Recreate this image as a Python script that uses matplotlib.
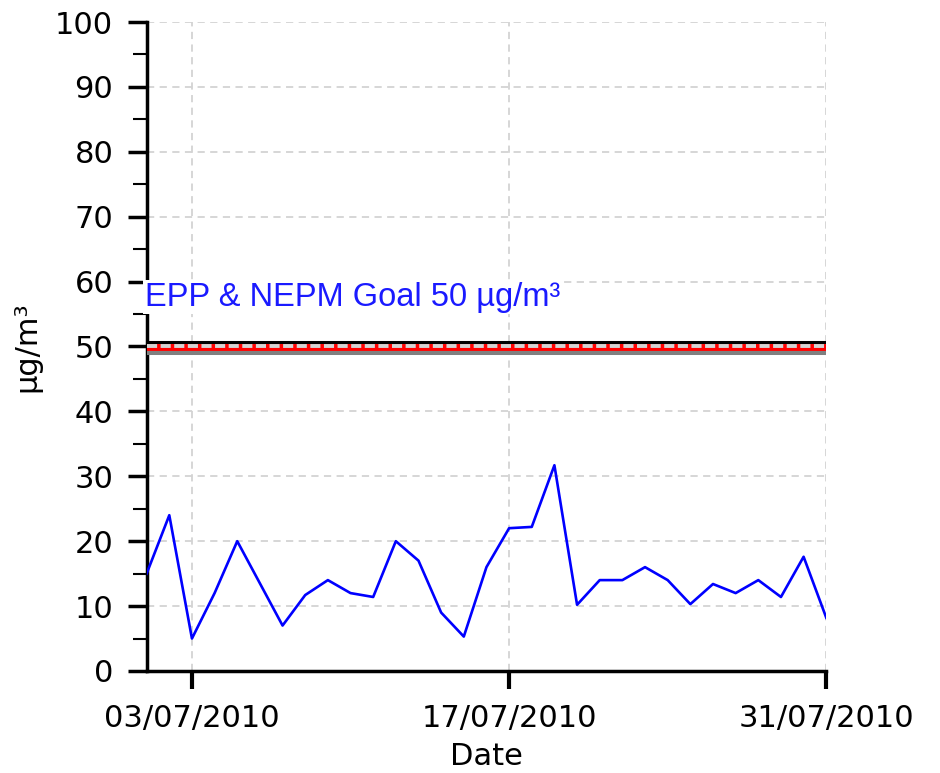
import matplotlib
matplotlib.use('Agg')
import matplotlib.pyplot as plt
import matplotlib.dates as mdates
import pandas as pd

plt.rcParams['font.family'] = ['DejaVu Sans']

# daily PM10 values, July 2010
dates = pd.date_range('2010-07-01', '2010-07-31', freq='D')
pm10 = [15, 24, 5, 12, 20, 13.5, 7, 11.7, 14, 12, 11.4, 20, 17, 9, 5.3, 16,
        22, 22.2, 31.7, 10.2, 14, 14, 16, 14, 10.3, 13.4, 12, 14, 11.4, 17.6, 8.2]
tick_dates = pd.to_datetime(['2010-07-03', '2010-07-17', '2010-07-31'])
goal = 50
goal_label = 'EPP & NEPM Goal 50 µg/m³'

fig = plt.figure(figsize=(9.4, 7.73), dpi=100)
ax = fig.add_axes([0.156, 0.132, 0.723, 0.8395])

ax.plot(dates, pm10, color='#0000ff', lw=1.9, zorder=3)

# goal line (black / red / grey band)
ax.axhline(goal + 0.62, color='black', lw=2.2, zorder=3)
ax.axhline(goal - 0.15, color='red', lw=5, zorder=3)
ax.axhline(goal - 1.0, color='gray', lw=2.9, zorder=3)
ax.axhline(goal + 0.08, color='#d3d3d3', lw=2.8, ls=(0, (2.6, 0.9)), zorder=3.5)

ax.text(dates[0] - pd.Timedelta(hours=2), 57.6, goal_label, color='#1a1aff',
        fontsize=23.5, family=['Liberation Sans'], va='center', ha='left',
        zorder=6, clip_on=False,
        bbox=dict(facecolor='white', edgecolor='none', pad=1))

ax.set_xlim(dates[0], dates[-1])
ax.set_ylim(0, 100)
ax.set_yticks(range(0, 101, 10))
ax.set_yticks(range(5, 100, 10), minor=True)
ax.set_xticks(tick_dates)
ax.xaxis.set_major_formatter(mdates.DateFormatter('%d/%m/%Y'))

ax.grid(True, which='major', color='#d3d3d3', ls=(0, (4, 3)), lw=1.3)
ax.set_axisbelow(True)

for s in ['top', 'right']:
    ax.spines[s].set_visible(False)
for s in ['left', 'bottom']:
    ax.spines[s].set_linewidth(2.5)

ax.tick_params(axis='y', which='major', length=14, width=2.5, labelsize=22, pad=10)
ax.tick_params(axis='y', which='minor', length=10, width=1.5)
ax.tick_params(axis='x', which='major', length=13, width=3, labelsize=22, pad=11)

ax.set_xlabel('Date', fontsize=22, labelpad=6)
ax.set_ylabel('µg/m³', fontsize=22, labelpad=10)

fig.savefig('out.png', dpi=100)
